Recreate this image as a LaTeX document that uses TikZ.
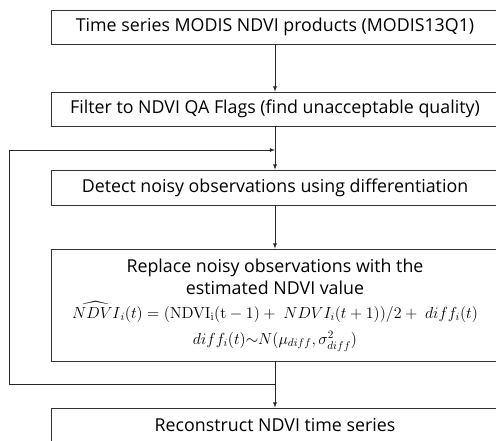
\RequirePackage{fix-cm}
\documentclass[tikz,border=0pt]{standalone}
\usepackage{amsmath}
\usepackage[no-math]{fontspec}
\setmainfont{Open Sans}
\usepackage{tikz}

\begin{document}
\begin{tikzpicture}[x=1pt, y=-1pt, >=latex,
        stepbox/.style={draw=black!80, thick, minimum width=448pt, minimum height=34pt, inner sep=0pt, font=\fontsize{17.8}{22}\selectfont},
        flow/.style={thick, ->, draw=black!85}]
                \useasboundingbox (0,0) rectangle (496,440);

                \node[stepbox] (modis) at (275, 27) {Time series MODIS NDVI products (MODIS13Q1)};
                \node[stepbox] (filter) at (275, 109) {Filter to NDVI QA Flags (find unacceptable quality)};
                \node[stepbox, minimum height=35pt] (detect) at (275, 187.5) {Detect noisy observations using differentiation};
                \node[stepbox, minimum height=112pt, align=center] (replace) at (275, 305) {Replace noisy observations with the\\ estimated NDVI value\\[2pt]
                        {\fontsize{16}{19}\selectfont $\widehat{NDVI}_i(t) = (\mathrm{NDVI_i(t-1)} +\ NDVI_i(t+1))/2 +\ diff_i(t)$}\\[4pt]
                        {\fontsize{16}{19}\selectfont $diff_i(t){\sim}N(\mu_{diff},\sigma^2_{diff})$}};
                \node[stepbox] (rebuild) at (275, 425) {Reconstruct NDVI time series};

                \draw[flow] (modis) -- (filter);
                \draw[flow] (filter) -- (detect);
                \draw[flow] (detect) -- (replace);
                \draw[flow] (replace) -- (rebuild);

                % feedback loop
                \coordinate (loopout) at (275, 384);
                \coordinate (loopin) at (275, 150);
                \draw[flow] (loopout) -- (9, 384) -- (9, 150) -- (loopin);
\end{tikzpicture}
\end{document}
